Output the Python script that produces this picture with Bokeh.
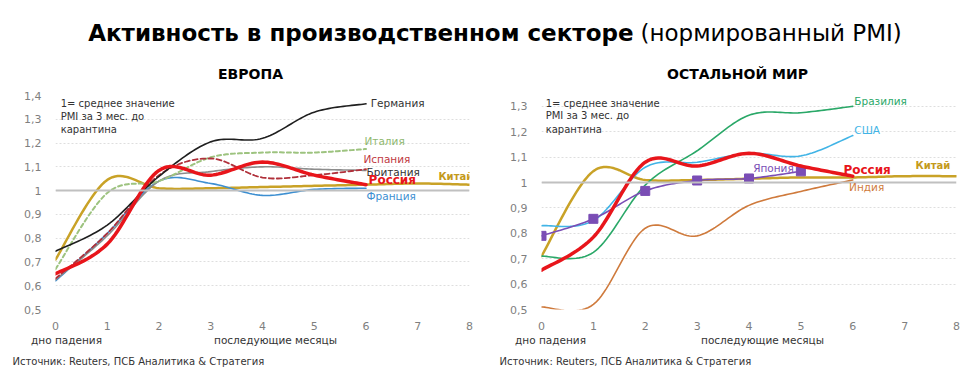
import numpy as np
from bokeh.plotting import figure
from bokeh.models import Label, Span, FixedTicker, Range1d, CustomJSTickFormatter
from bokeh.layouts import column, row
from bokeh.embed import file_html
from bokeh.resources import INLINE

# ---------------- data ----------------
months = [0, 1, 2, 3, 4, 5, 6]
months_long = [0, 1, 2, 3, 4, 5, 6, 7, 8]
months_japan = [0, 1, 2, 3, 4, 5]

# Europe
germany = [0.745, 0.855, 1.06, 1.205, 1.22, 1.33, 1.365]
italy = [0.67, 0.99, 1.04, 1.14, 1.16, 1.16, 1.175]
spain = [0.63, 0.82, 1.065, 1.135, 1.055, 1.065, 1.09]
britain = [0.625, 0.81, 1.04, 1.08, 1.10, 1.09, 1.085]
france = [0.62, 0.82, 1.04, 1.03, 0.98, 1.005, 1.01]
russia = [0.65, 0.775, 1.085, 1.065, 1.12, 1.065, 1.025]
china = [0.71, 1.045, 1.01, 1.01, 1.015, 1.02, 1.025, 1.03, 1.025]

# Rest of the world
brazil = [0.71, 0.725, 0.99, 1.125, 1.265, 1.275, 1.30]
usa = [0.83, 0.85, 1.06, 1.08, 1.115, 1.105, 1.185]
japan = [0.79, 0.857, 0.967, 1.008, 1.016, 1.044]
india = [0.51, 0.52, 0.82, 0.79, 0.91, 0.965, 1.01]
russia_w = [0.655, 0.785, 1.08, 1.065, 1.115, 1.065, 1.025]
china_w = [0.71, 1.045, 1.01, 1.01, 1.015, 1.02, 1.02, 1.025, 1.025]

x_ticks = [0, 1, 2, 3, 4, 5, 6, 7, 8]
y_ticks_eu = [0.5, 0.6, 0.7, 0.8, 0.9, 1.0, 1.1, 1.2, 1.3, 1.4]
y_ticks_w = [0.5, 0.6, 0.7, 0.8, 0.9, 1.0, 1.1, 1.2, 1.3]

FONT = "DejaVu Sans"


def smooth(xs, ys, n=20):
    """Excel-like smoothed line (Catmull-Rom) through the given points."""
    px, py = [], []
    m = len(xs)
    for i in range(m - 1):
        x0, y0 = (xs[i - 1], ys[i - 1]) if i > 0 else (xs[i], ys[i])
        x1, y1 = xs[i], ys[i]
        x2, y2 = xs[i + 1], ys[i + 1]
        x3, y3 = (xs[i + 2], ys[i + 2]) if i + 2 < m else (xs[i + 1], ys[i + 1])
        for t in np.linspace(0, 1, n, endpoint=False):
            t2, t3 = t * t, t * t * t
            px.append(0.5 * ((2 * x1) + (-x0 + x2) * t + (2 * x0 - 5 * x1 + 4 * x2 - x3) * t2 + (-x0 + 3 * x1 - 3 * x2 + x3) * t3))
            py.append(0.5 * ((2 * y1) + (-y0 + y2) * t + (2 * y0 - 5 * y1 + 4 * y2 - y3) * t2 + (-y0 + 3 * y1 - 3 * y2 + y3) * t3))
    px.append(xs[-1])
    py.append(ys[-1])
    return px, py


def base_fig(width, height, y0, y1, yticks, bl, br, bt, bb):
    p = figure(width=width, height=height, x_range=Range1d(0, 8), y_range=Range1d(y0, y1),
               toolbar_location=None, output_backend="svg",
               min_border_left=bl, min_border_right=br, min_border_top=bt, min_border_bottom=bb)
    p.outline_line_color = None
    p.background_fill_color = "white"
    p.border_fill_color = "white"
    p.xgrid.grid_line_color = None
    p.ygrid.grid_line_color = "#dedede"
    p.ygrid.grid_line_dash = "2 2"
    p.ygrid.grid_line_width = 1
    p.xaxis.ticker = FixedTicker(ticks=x_ticks)
    p.yaxis.ticker = FixedTicker(ticks=yticks)
    p.yaxis.formatter = CustomJSTickFormatter(code="return (Math.round(tick*10)/10).toString().replace('.', ',');")
    for ax in (p.xaxis[0], p.yaxis[0]):
        ax.axis_line_color = None
        ax.major_tick_line_color = None
        ax.minor_tick_line_color = None
        ax.major_label_text_color = "#7f7f7f"
        ax.major_label_text_font = FONT
        ax.major_label_text_font_size = "11px"
    p.yaxis.major_label_standoff = 8
    p.xaxis.major_label_standoff = 6
    p.add_layout(Span(location=1.0, dimension="width", line_color="#c0c0c0", line_width=2))
    return p


def add_line(p, xs, ys, color, width, dash="solid"):
    sx, sy = smooth(xs, ys)
    p.line(sx, sy, line_color=color, line_width=width, line_dash=dash, line_cap="round", line_join="round")


def lab(p, x, y, text, color="#333333", size="10.5px", bold=False, align="left"):
    p.add_layout(Label(x=x, y=y, text=text, text_color=color, text_font=FONT,
                       text_font_size=size, text_font_style="bold" if bold else "normal",
                       text_baseline="middle", text_align=align))


def strip(height):
    s = figure(width=976, height=height, x_range=Range1d(0, 976), y_range=Range1d(height, 0),
               toolbar_location=None, output_backend="svg", x_axis_type=None, y_axis_type=None,
               min_border=0)
    s.outline_line_color = None
    s.grid.grid_line_color = None
    return s


# ---------------- header ----------------
hdr = strip(85)
lab(hdr, 633, 32, "Активность в производственном секторе", "#000000", "23px", True, "right")
lab(hdr, 640, 32, "(нормированный PMI)", "#000000", "23px", False, "left")
lab(hdr, 250, 73, "ЕВРОПА", "#000000", "14px", True, "center")
lab(hdr, 737, 73, "ОСТАЛЬНОЙ МИР", "#000000", "14px", True, "center")

# ---------------- Europe ----------------
pe = base_fig(488, 247, 0.5, 1.4, y_ticks_eu, 55, 19, 10, 20)
add_line(pe, months_long, china, "#c9a227", 2.5)
add_line(pe, months, france, "#3d8fd1", 1.6)
add_line(pe, months, britain, "#8c8c8c", 1.6)
add_line(pe, months, italy, "#9dc37f", 2, "4 3")
add_line(pe, months, spain, "#b0303a", 1.8, "5 3")
add_line(pe, months, germany, "#1f1f1f", 1.6)
add_line(pe, months, russia, "#e8151b", 3.5)

lab(pe, 0.1, 1.367, "1= среднее значение", "#333333", "10px")
lab(pe, 0.1, 1.313, "PMI за 3 мес. до", "#333333", "10px")
lab(pe, 0.1, 1.259, "карантина", "#333333", "10px")
lab(pe, 6.09, 1.367, "Германия", "#333333")
lab(pe, 5.97, 1.209, "Италия", "#8fb870")
lab(pe, 5.95, 1.134, "Испания", "#c0393f")
lab(pe, 6.01, 1.080, "Британия", "#333333")
lab(pe, 6.05, 1.043, "Россия", "#e8151b", "12px", True)
lab(pe, 7.40, 1.06, "Китай", "#c49a1c", "10px", True)
lab(pe, 6.01, 0.977, "Франция", "#3d8fd1")

# ---------------- Rest of world ----------------
pw = base_fig(488, 247, 0.5, 1.3427, y_ticks_w, 53, 20, 10, 20)
add_line(pw, months, india, "#cf7a3c", 1.6)
add_line(pw, months_long, china_w, "#c9a227", 2.5)
add_line(pw, months, brazil, "#2aa868", 1.6)
add_line(pw, months, usa, "#41b4e6", 1.6)
add_line(pw, months_japan, japan, "#7a4db5", 1.6)
pw.scatter(months_japan, japan, marker="square", size=9, fill_color="#7a4db5", line_color="#7a4db5")
add_line(pw, months, russia_w, "#e8151b", 3.5)

lab(pw, 0.08, 1.31, "1= среднее значение", "#333333", "10px")
lab(pw, 0.08, 1.262, "PMI за 3 мес. до", "#333333", "10px")
lab(pw, 0.08, 1.21, "карантина", "#333333", "10px")
lab(pw, 6.03, 1.321, "Бразилия", "#2aa868")
lab(pw, 6.03, 1.207, "США", "#41b4e6")
lab(pw, 4.08, 1.059, "Япония", "#7a4db5")
lab(pw, 5.82, 1.048, "Россия", "#e8151b", "12px", True)
lab(pw, 7.21, 1.067, "Китай", "#c49a1c", "10px", True)
lab(pw, 5.93, 0.982, "Индия", "#cf7a3c")

# ---------------- footer ----------------
ftr = strip(60)
lab(ftr, 66, 7, "дно падения", "#333333", "10.5px", False, "center")
lab(ftr, 275, 7, "последующие месяцы", "#333333", "10.5px", False, "center")
lab(ftr, 12, 29, "Источник: Reuters, ПСБ Аналитика & Стратегия", "#333333", "10px")
lab(ftr, 550, 7, "дно падения", "#333333", "10.5px", False, "center")
lab(ftr, 762, 7, "последующие месяцы", "#333333", "10.5px", False, "center")
lab(ftr, 499, 29, "Источник: Reuters, ПСБ Аналитика & Стратегия", "#333333", "10px")

layout = column(hdr, row(pe, pw), ftr)
open("out.html", "w").write(file_html(layout, INLINE))
